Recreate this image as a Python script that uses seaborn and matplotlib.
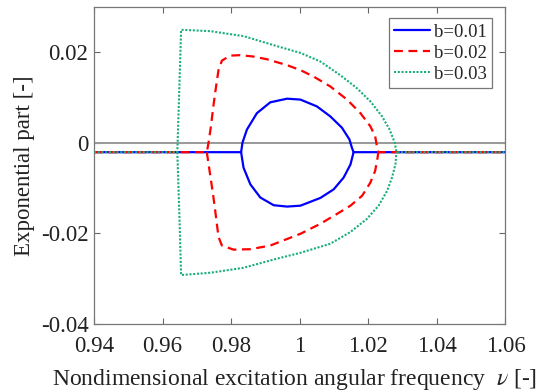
import matplotlib
matplotlib.use("Agg")
import matplotlib.pyplot as plt
import seaborn as sns
import pandas as pd

# axis range and ticks
x_min, x_max = 0.94, 1.06
x_ticks = [0.94, 0.96, 0.98, 1.00, 1.02, 1.04, 1.06]
x_tick_labels = ["0.94", "0.96", "0.98", "1", "1.02", "1.04", "1.06"]
y_ticks = [-0.04, -0.02, 0.0, 0.02]
y_tick_labels = ["-0.04", "-0.02", "0", "0.02"]

# common level of the exponent outside the unstable region
base_level = -0.0021

# b = 0.01
b1_upper_x = [0.9829, 0.9833, 0.9846, 0.9875, 0.9914, 0.9963, 1.0002, 1.0050, 1.0089, 1.0123, 1.0145, 1.0152, 1.0157]
b1_upper_y = [-0.0021, 0.0000, 0.0029, 0.0065, 0.0089, 0.0097, 0.0095, 0.0080, 0.0058, 0.0033, 0.0007, -0.0011, -0.0021]
b1_lower_x = [0.9829, 0.9836, 0.9856, 0.9885, 0.9924, 0.9963, 1.0002, 1.0060, 1.0099, 1.0128, 1.0148, 1.0157]
b1_lower_y = [-0.0021, -0.0055, -0.0092, -0.0121, -0.0138, -0.0141, -0.0139, -0.0122, -0.0103, -0.0077, -0.0048, -0.0021]

# b = 0.02
b2_upper_x = [0.9729, 0.9734, 0.9741, 0.9748, 0.9756, 0.9763, 0.9773, 0.9797, 0.9826, 0.9865, 0.9904,
              0.9963, 1.0002, 1.0040, 1.0089, 1.0138, 1.0177, 1.0206, 1.0220, 1.0225, 1.0229]
b2_upper_y = [-0.0021, 0.0000, 0.0036, 0.0080, 0.0124, 0.0160, 0.0181, 0.0192, 0.0193, 0.0190, 0.0184,
              0.0171, 0.0160, 0.0146, 0.0124, 0.0095, 0.0065, 0.0036, 0.0014, -0.0008, -0.0021]
b2_lower_x = [0.9729, 0.9737, 0.9747, 0.9756, 0.9763, 0.9773, 0.9807, 0.9856, 0.9914, 1.0002, 1.0060,
              1.0109, 1.0148, 1.0182, 1.0206, 1.0220, 1.0227, 1.0229]
b2_lower_y = [-0.0021, -0.0062, -0.0113, -0.0165, -0.0208, -0.0227, -0.0236, -0.0235, -0.0227, -0.0201, -0.0179,
              -0.0157, -0.0139, -0.0117, -0.0088, -0.0062, -0.0033, -0.0021]

# b = 0.03
b3_upper_x = [0.9643, 0.9649, 0.9654, 0.9739, 0.9836, 0.9933, 1.0002, 1.0060, 1.0118, 1.0167, 1.0206,
              1.0240, 1.0262, 1.0277, 1.0282]
b3_upper_y = [-0.0021, 0.0124, 0.0249, 0.0246, 0.0235, 0.0213, 0.0198, 0.0179, 0.0149, 0.0120, 0.0091,
              0.0058, 0.0029, 0.0000, -0.0021]
b3_lower_x = [0.9643, 0.9649, 0.9654, 0.9739, 0.9836, 0.9933, 1.0002, 1.0089, 1.0148, 1.0196, 1.0230,
              1.0255, 1.0269, 1.0279, 1.0282]
b3_lower_y = [-0.0021, -0.0160, -0.0292, -0.0287, -0.0276, -0.0256, -0.0243, -0.0223, -0.0197, -0.0168, -0.0139,
              -0.0106, -0.0077, -0.0048, -0.0021]

labels = ["b=0.01", "b=0.02", "b=0.03"]
colors = ["#0000ff", "#ff0000", "#1aae7c"]
styles = ["-", (0, (4, 2.5)), (0, (1, 0.8))]
widths = [1.6, 1.6, 1.5]

sns.set_style("ticks")
plt.rcParams["font.family"] = ["Liberation Serif", "DejaVu Serif"]
plt.rcParams["mathtext.fontset"] = "stix"

fig = plt.figure(figsize=(5.51, 3.92), dpi=100)
ax = fig.add_axes([0.1706, 0.1735, 0.7468, 0.8095])

ax.axhline(0, color="#999999", lw=1.4, zorder=1)

curves = [
    (b1_upper_x, b1_upper_y, b1_lower_x, b1_lower_y),
    (b2_upper_x, b2_upper_y, b2_lower_x, b2_lower_y),
    (b3_upper_x, b3_upper_y, b3_lower_x, b3_lower_y),
]

for i, (ux, uy, lx, ly) in enumerate(curves):
    # left tail + upper branch + right tail as one path, lower branch separately
    path = pd.DataFrame({
        "x": [x_min] + ux + [x_max],
        "y": [base_level] + uy + [base_level],
    })
    lower = pd.DataFrame({"x": lx, "y": ly})
    kw = dict(color=colors[i], linestyle=styles[i], linewidth=widths[i],
              sort=False, estimator=None, zorder=2 + i)
    sns.lineplot(data=path, x="x", y="y", ax=ax, label=labels[i], **kw)
    sns.lineplot(data=lower, x="x", y="y", ax=ax, **kw)

ax.set_xlim(x_min, x_max)
ax.set_ylim(-0.04, 0.03)
ax.set_xticks(x_ticks)
ax.set_xticklabels(x_tick_labels)
ax.set_yticks(y_ticks)
ax.set_yticklabels(y_tick_labels)
ax.tick_params(direction="in", top=True, right=True, length=4, width=0.8,
               color="#666666", labelsize=16.5, labelcolor="#222222")
ax.tick_params(axis="x", pad=9)
ax.tick_params(axis="y", pad=4)
for s in ax.spines.values():
    s.set_visible(True)
    s.set_color("#777777")
    s.set_linewidth(0.9)

ax.set_xlabel(r"Nondimensional excitation angular frequency  $\nu$ [-]",
              fontsize=17, color="#222222", labelpad=2)
ax.xaxis.set_label_coords(0.487, -0.135)
ax.set_ylabel("Exponential part [-]", fontsize=16.5, color="#222222", labelpad=4)

leg = ax.legend(loc="upper right", bbox_to_anchor=(0.968, 0.964), fontsize=13.5,
                frameon=True, fancybox=False, framealpha=1, edgecolor="#777777",
                handlelength=1.9, handletextpad=0.2, labelspacing=0.2,
                borderpad=0.3, borderaxespad=0)
leg.get_frame().set_linewidth(0.9)

fig.savefig("out.png", dpi=100)
plt.close(fig)
